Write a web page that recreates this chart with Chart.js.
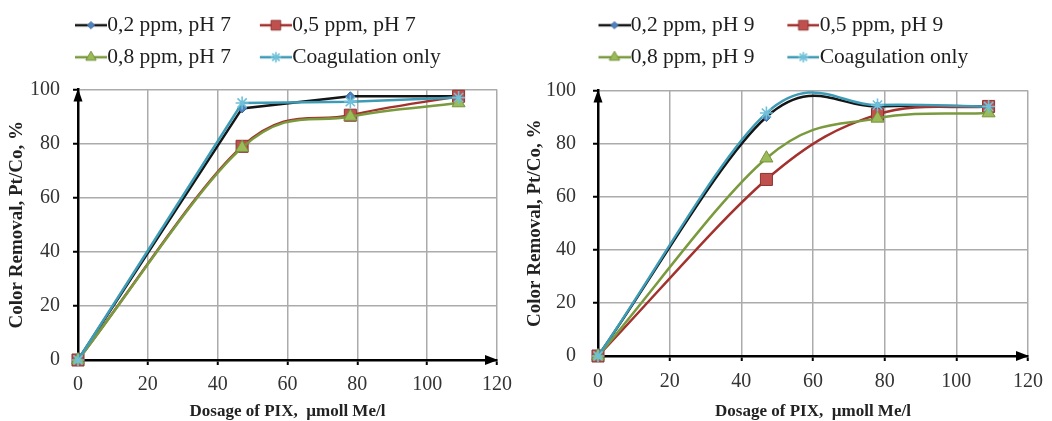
<!DOCTYPE html>
<html><head><meta charset="utf-8">
<script src="https://cdn.jsdelivr.net/npm/chart.js"></script>
<style>
html,body{margin:0;padding:0;background:#fff;}
#wrap{position:relative;width:1052px;height:421px;overflow:hidden;background:#fff;}
#c1{position:absolute;left:0;top:0;}
#c2{position:absolute;left:520px;top:0;}
</style></head><body>
<div id="wrap"><canvas id="c1" width="520" height="421"></canvas><canvas id="c2" width="532" height="421"></canvas></div>
<script>
// ---------- data ----------
const dosePH7 = [0, 47, 78, 109];
const ppm02_pH7 = [0, 93, 97.5, 97.5];
const ppm05_pH7 = [0, 79, 90.5, 97.5];
const ppm08_pH7 = [0, 78.5, 90, 95];
const coag_pH7  = [0, 95, 95.5, 97];

const dosePH9 = [0, 47, 78, 109];
const ppm02_pH9 = [0, 90, 94, 94];
const ppm05_pH9 = [0, 66.5, 91, 94];
const ppm08_pH9 = [0, 74.5, 89.5, 91.5];
const coag_pH9  = [0, 91.5, 94.5, 94];

const seriesNamesPH7 = ['0,2 ppm, pH 7', '0,5 ppm, pH 7', '0,8 ppm, pH 7', 'Coagulation only'];
const seriesNamesPH9 = ['0,2 ppm, pH 9', '0,5 ppm, pH 9', '0,8 ppm, pH 9', 'Coagulation only'];
const xTickValues = [0, 20, 40, 60, 80, 100, 120];
const yTickValues = [0, 20, 40, 60, 80, 100];
const xAxisTitle = 'Dosage of PIX,  µmoll Me/l';
const yAxisTitle = 'Color Removal, Pt/Co, %';

// ---------- styles ----------
const FONT = "'Liberation Serif', 'Times New Roman', serif";
const seriesStyles = [
  {line:'#151515', fill:'#4f81bd', stroke:'#3b6aa3', shape:'rectRot', r:4.5, bw:1},
  {line:'#a3322e', fill:'#c0504d', stroke:'#8c3431', shape:'rect', r:8.5, bw:1},
  {line:'#7a9a3e', fill:'#9bbb59', stroke:'#76923c', shape:'triangle', r:7.5, bw:1},
  {line:'#3e9bb6', fill:'#93cddd', stroke:'#6fc0d8', shape:'star', r:6.5, bw:1.6}
];
const smoothPH7 = [false, true, true, false];
const smoothPH9 = [true, true, true, true];

function drawMarker(g, st, x, y, scale) {
  const r = st.r * scale;
  g.save();
  g.fillStyle = st.fill; g.strokeStyle = st.stroke; g.lineWidth = st.bw;
  if (Chart.helpers && Chart.helpers.drawPoint) {
    Chart.helpers.drawPoint(g, {pointStyle: st.shape, radius: r, borderWidth: st.bw, rotation: 0}, x, y);
  } else {
    g.beginPath();
    if (st.shape === 'rectRot') { g.moveTo(x, y-r); g.lineTo(x+r, y); g.lineTo(x, y+r); g.lineTo(x-r, y); g.closePath(); g.fill(); g.stroke(); }
    else if (st.shape === 'rect') { const s = r*Math.SQRT1_2; g.rect(x-s, y-s, 2*s, 2*s); g.fill(); g.stroke(); }
    else if (st.shape === 'triangle') { g.moveTo(x, y-r); g.lineTo(x+r*0.866, y+r*0.5); g.lineTo(x-r*0.866, y+r*0.5); g.closePath(); g.fill(); g.stroke(); }
    else { for (let k=0;k<4;k++){ const a=k*Math.PI/4; g.moveTo(x-Math.cos(a)*r, y-Math.sin(a)*r); g.lineTo(x+Math.cos(a)*r, y+Math.sin(a)*r);} g.stroke(); }
  }
  g.restore();
}

function makeLegendImage(st, T) {
  const c = document.createElement('canvas');
  c.width = 32 + T; c.height = 22;
  const g = c.getContext('2d');
  g.strokeStyle = st.line; g.lineWidth = 2.5;
  g.beginPath(); g.moveTo(T, 11); g.lineTo(T + 32, 11); g.stroke();
  drawMarker(g, st, T + 16, 11, 0.8);
  return c;
}

// legend: extra gap below it and a custom left start
const legendPlace = {
  id: 'legendPlace',
  beforeLayout(chart, args, opts) {
    const lg = chart.legend;
    if (lg && !lg.__gapPatched) {
      const fit = lg.fit;
      lg.fit = function () { fit.call(this); this.height += (opts.extra || 0); };
      lg.__gapPatched = true;
    }
  },
  afterLayout(chart, args, opts) {
    if (chart.legend && opts.left != null) chart.legend.left = opts.left;
  }
};

// Excel-style smoothing: control points from neighbouring points (computed from the scale pixels)
const excelSmooth = {
  id: 'excelSmooth',
  beforeDatasetDraw(chart, args) {
    const ds = chart.data.datasets[args.index];
    if (!ds.excelSmooth) return;
    const line = args.meta.dataset, pts = args.meta.data, n = pts.length;
    line.updateControlPoints(chart.chartArea, 'x');
    for (let i = 0; i < n; i++) {
      const p = pts[i];
      let dx, dy;
      if (i === 0) { dx = (pts[1].x - p.x) / 3; dy = (pts[1].y - p.y) / 3; }
      else if (i === n - 1) { dx = (p.x - pts[i-1].x) / 3; dy = (p.y - pts[i-1].y) / 3; }
      else { dx = (pts[i+1].x - pts[i-1].x) / 6; dy = (pts[i+1].y - pts[i-1].y) / 6; }
      p.cp1x = p.x - dx; p.cp1y = p.y - dy; p.cp2x = p.x + dx; p.cp2y = p.y + dy;
    }
    delete line._path;
  }
};

const axisArrows = {
  id: 'axisArrows',
  afterDraw(chart) {
    const {ctx} = chart; const xs = chart.scales.x, ys = chart.scales.y;
    const x0 = xs.getPixelForValue(xs.min), xe = xs.getPixelForValue(xs.max);
    const y0 = ys.getPixelForValue(ys.min), ye = ys.getPixelForValue(ys.max);
    ctx.save(); ctx.fillStyle = '#000';
    ctx.beginPath(); ctx.moveTo(xe + 1, y0); ctx.lineTo(xe - 12, y0 - 5); ctx.lineTo(xe - 12, y0 + 5); ctx.closePath(); ctx.fill();
    ctx.beginPath(); ctx.moveTo(x0, ye - 1); ctx.lineTo(x0 - 4.5, ye + 12); ctx.lineTo(x0 + 4.5, ye + 12); ctx.closePath(); ctx.fill();
    ctx.restore();
  }
};

function buildChart(canvasId, xs, seriesList, names, smooth, L) {
  const legendImgs = seriesStyles.map(st => makeLegendImage(st, L.T));
  const datasets = seriesList.map((ys, i) => {
    const st = seriesStyles[i];
    return {
      label: names[i],
      data: xs.map((x, k) => ({x: x, y: ys[k]})),
      borderColor: st.line, borderWidth: 2.5, fill: false,
      tension: smooth[i] ? 0.4 : 0, excelSmooth: smooth[i],
      pointStyle: st.shape, pointRadius: st.r, pointHoverRadius: st.r,
      pointBackgroundColor: st.fill, pointBorderColor: st.stroke, pointBorderWidth: st.bw,
      clip: false, order: 3 - i
    };
  });
  const gridColor = (ctx) => (ctx.tick && ctx.tick.value === 0) ? 'rgba(0,0,0,0)' : '#ababab';
  const tickFont = {family: FONT, size: 20};
  const titleFontX = {family: FONT, size: 17, weight: 'bold'};
  const titleFontY = {family: FONT, size: 19, weight: 'bold'};
  return new Chart(document.getElementById(canvasId), {
    type: 'line',
    data: {datasets},
    plugins: [legendPlace, excelSmooth, axisArrows],
    options: {
      responsive: false, animation: false, devicePixelRatio: 1,
      layout: {padding: {left: 0, right: L.padR, top: 4, bottom: 0}},
      elements: {line: {capBezierPoints: false}},
      plugins: {
        tooltip: {enabled: false},
        legendPlace: {extra: L.legendExtra, left: L.legendLeft},
        legend: {
          display: true, position: 'top', align: 'start', fullSize: true,
          labels: {
            usePointStyle: true, pointStyleWidth: L.T + 11, padding: 10.5,
            font: {family: FONT, size: 21.5}, color: '#1e1e1e',
            generateLabels: (chart) => chart.data.datasets.map((ds, i) => ({
              text: ds.label, pointStyle: legendImgs[i], datasetIndex: i,
              fillStyle: 'rgba(0,0,0,0)', strokeStyle: 'rgba(0,0,0,0)', lineWidth: 0,
              hidden: !chart.isDatasetVisible(i), fontColor: '#1e1e1e'
            }))
          }
        }
      },
      scales: {
        x: {
          type: 'linear', position: 'bottom', min: 0, max: 120,
          afterBuildTicks: (s) => { s.ticks = xTickValues.map(v => ({value: v})); },
          ticks: {font: tickFont, color: '#333', padding: L.xTickPad, maxRotation: 0, autoSkip: false},
          grid: {color: gridColor, lineWidth: 1.5, drawTicks: true, tickLength: 5, tickColor: '#000', tickWidth: 2},
          border: {display: true, color: '#000', width: 2.5},
          title: {display: true, text: xAxisTitle, font: titleFontX, color: '#222', padding: {top: 0, bottom: -1}},
          afterFit: (s) => { s.height = 421 - L.bottom; }
        },
        y: {
          type: 'linear', position: 'left', min: 0, max: 100,
          afterBuildTicks: (s) => { s.ticks = yTickValues.map(v => ({value: v})); },
          ticks: {font: tickFont, color: '#333', padding: L.yTickPad},
          grid: {color: gridColor, lineWidth: 1.5, drawTicks: true, tickLength: 5, tickColor: '#000', tickWidth: 2},
          border: {display: true, color: '#000', width: 2.5},
          title: {display: true, text: yAxisTitle, font: titleFontY, color: '#222',
                  padding: {top: L.yTitleX - titleFontY.size * 1.2 / 2, bottom: 0}},
          afterFit: (s) => { s.width = L.left; }
        }
      }
    }
  });
}

buildChart('c1', dosePH7, [ppm02_pH7, ppm05_pH7, ppm08_pH7, coag_pH7], seriesNamesPH7, smoothPH7,
  {T: 29, legendLeft: 46, padR: 22, left: 78, bottom: 360, legendExtra: 11.5, xTickPad: 8, yTickPad: 13, yTitleX: 17});

buildChart('c2', dosePH9, [ppm02_pH9, ppm05_pH9, ppm08_pH9, coag_pH9], seriesNamesPH9, smoothPH9,
  {T: 33, legendLeft: 45.5, padR: 20, left: 78, bottom: 356, legendExtra: 12.5, xTickPad: 9, yTickPad: 17, yTitleX: 15});
</script>
</body></html>
